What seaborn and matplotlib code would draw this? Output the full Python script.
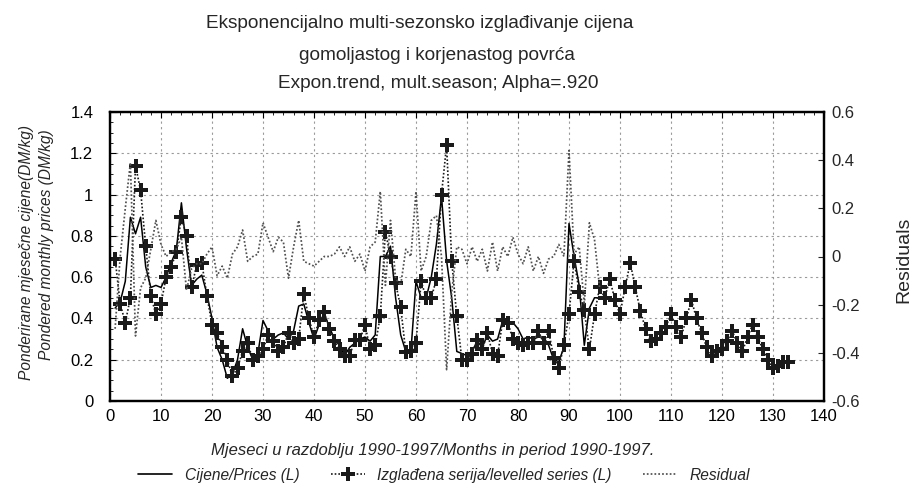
import numpy as np
import pandas as pd
import seaborn as sns
import matplotlib.pyplot as plt
from matplotlib.lines import Line2D
from matplotlib.ticker import MultipleLocator, FuncFormatter

# monthly prices (left axis, DM/kg), months 1..96
prices = [0.45, 0.48, 0.58, 0.89, 0.81, 0.89, 0.65, 0.55, 0.56, 0.55,
          0.60, 0.67, 0.73, 0.96, 0.74, 0.56, 0.59, 0.61, 0.52, 0.40,
          0.26, 0.20, 0.11, 0.13, 0.20, 0.35, 0.26, 0.20, 0.23, 0.39,
          0.34, 0.30, 0.32, 0.33, 0.30, 0.34, 0.46, 0.47, 0.38, 0.30,
          0.37, 0.42, 0.36, 0.30, 0.27, 0.22, 0.26, 0.28, 0.30, 0.31,
          0.29, 0.32, 0.70, 0.70, 0.75, 0.50, 0.32, 0.24, 0.24, 0.58,
          0.50, 0.50, 0.60, 0.76, 0.99, 0.68, 0.50, 0.24, 0.23, 0.22,
          0.24, 0.29, 0.26, 0.32, 0.29, 0.30, 0.39, 0.38, 0.38, 0.35,
          0.30, 0.31, 0.30, 0.31, 0.31, 0.27, 0.20, 0.19, 0.26, 0.86,
          0.70, 0.56, 0.27, 0.45, 0.50, 0.50]

# levelled (smoothed + forecast) series, months 1..133
levelled = [0.69, 0.47, 0.38, 0.50, 1.14, 1.02, 0.75, 0.51, 0.42, 0.47,
            0.60, 0.65, 0.72, 0.89, 0.80, 0.55, 0.66, 0.67, 0.51, 0.37,
            0.33, 0.26, 0.20, 0.12, 0.16, 0.24, 0.28, 0.20, 0.22, 0.25,
            0.32, 0.29, 0.24, 0.26, 0.33, 0.28, 0.30, 0.52, 0.40, 0.31,
            0.39, 0.43, 0.35, 0.29, 0.25, 0.22, 0.22, 0.295, 0.295, 0.37,
            0.25, 0.27, 0.41, 0.82, 0.70, 0.57, 0.455, 0.235, 0.24, 0.28,
            0.58, 0.50, 0.50, 0.59, 1.00, 1.24, 0.68, 0.41, 0.20, 0.20,
            0.23, 0.295, 0.25, 0.33, 0.23, 0.22, 0.39, 0.38, 0.30, 0.28,
            0.27, 0.28, 0.28, 0.34, 0.28, 0.34, 0.21, 0.16, 0.27, 0.42,
            0.68, 0.53, 0.44, 0.25, 0.42, 0.55, 0.50, 0.59, 0.49, 0.42,
            0.55, 0.67, 0.55, 0.435, 0.35, 0.29, 0.30, 0.33, 0.36, 0.42,
            0.36, 0.31, 0.40, 0.49, 0.40, 0.33, 0.26, 0.22, 0.24, 0.25,
            0.29, 0.34, 0.28, 0.24, 0.31, 0.37, 0.31, 0.25, 0.20, 0.16,
            0.17, 0.19, 0.19]

# residuals (right axis), months 1..96
residuals = [-0.30, 0.00, 0.20, 0.39, -0.33, -0.13, -0.09, 0.03, 0.15, 0.05,
             0.00, 0.02, 0.03, 0.08, -0.14, -0.05, -0.03, -0.03, 0.01, 0.04,
             -0.08, -0.04, -0.09, 0.01, 0.04, 0.11, -0.02, 0.00, 0.01, 0.14,
             0.08, 0.02, 0.08, 0.06, -0.09, 0.04, 0.15, -0.02, -0.03, -0.04,
             -0.02, 0.00, 0.00, 0.01, 0.04, 0.00, 0.04, -0.02, 0.01, -0.06,
             0.04, 0.06, 0.27, -0.12, 0.15, -0.09, -0.12, 0.03, 0.00, 0.27,
             -0.06, 0.00, 0.15, 0.17, 0.00, -0.47, -0.15, 0.04, 0.03, -0.03,
             0.04, -0.02, 0.03, -0.06, 0.06, -0.06, 0.04, 0.00, 0.08, 0.01,
             -0.03, 0.04, -0.06, 0.00, -0.07, -0.01, 0.00, 0.05, 0.00, 0.44,
             0.01, 0.04, -0.20, 0.14, 0.07, -0.13]

title_lines = ["Eksponencijalno multi-sezonsko izglađivanje cijena",
               "gomoljastog i korjenastog povrća",
               "Expon.trend, mult.season; Alpha=.920"]
legend_labels = ["Cijene/Prices (L)", "Izglađena serija/levelled series (L)", "Residual"]

df_p = pd.DataFrame({"month": np.arange(1, len(prices) + 1), "value": prices})
df_l = pd.DataFrame({"month": np.arange(1, len(levelled) + 1), "value": levelled})
df_r = pd.DataFrame({"month": np.arange(1, len(residuals) + 1), "value": residuals})

sns.set_style("white")
plt.rcParams["font.family"] = ["Liberation Sans", "DejaVu Sans"]
plt.rcParams["axes.unicode_minus"] = False

fig = plt.figure(figsize=(9.13, 4.86), dpi=100)
ax = fig.add_axes([110 / 913, 1 - 401 / 486, 714 / 913, 289 / 486])
ax2 = ax.twinx()

dot = (0, (1, 1.2))
sns.lineplot(data=df_r, x="month", y="value", ax=ax2, color="#505050", lw=1.25, linestyle=dot)
sns.lineplot(data=df_p, x="month", y="value", ax=ax, color="black", lw=1.1)
sns.lineplot(data=df_l, x="month", y="value", ax=ax, color="#1a1a1a", lw=1.2, linestyle=dot,
             marker="P", markersize=9.5, markeredgewidth=0)

ax.set_xlim(0, 140)
ax.set_ylim(0, 1.4)
ax2.set_ylim(-0.6, 0.6)
ax.xaxis.set_major_locator(MultipleLocator(10))
ax.xaxis.set_minor_locator(MultipleLocator(2))
ax.yaxis.set_major_locator(MultipleLocator(0.2))
ax.yaxis.set_minor_locator(MultipleLocator(0.05))
ax2.yaxis.set_major_locator(MultipleLocator(0.2))
fmt = FuncFormatter(lambda v, p: "%g" % (round(v, 2) + 0.0))
ax.yaxis.set_major_formatter(fmt)
ax2.yaxis.set_major_formatter(fmt)

ax.grid(True, which="major", color="#9a9a9a", lw=0.8, linestyle=(0, (2, 3)))
for a in (ax, ax2):
    for s in a.spines.values():
        s.set_linewidth(1.6)
        s.set_color("black")
ax.tick_params(which="both", direction="in", top=True, labelsize=12, colors="black")
ax.tick_params(axis="x", which="major", length=4, pad=6)
ax.tick_params(axis="y", which="major", length=4, pad=12)
ax.tick_params(which="minor", length=2)
ax2.tick_params(direction="in", length=4, labelsize=12, pad=5)

ax.set_xlabel("")
ax.set_ylabel("")
ax2.set_ylabel("")

for txt, y, xc in zip(title_lines, [23, 55, 83], [420, 437, 438]):
    fig.text(xc / 913, 1 - y / 486, txt, ha="center", va="center", fontsize=13.7)

fig.text(26 / 913, 1 - 252 / 486, "Ponderirane mjesečne cijene(DM/kg)", rotation=90,
         ha="center", va="center", fontsize=11.2, style="italic")
fig.text(47 / 913, 1 - 245 / 486, "Pondered monthly prices (DM/kg)", rotation=90,
         ha="center", va="center", fontsize=11.2, style="italic")
fig.text(904 / 913, 1 - 260 / 486, "Residuals", rotation=90, ha="center", va="center", fontsize=14)
fig.text(433 / 913, 1 - 450 / 486, "Mjeseci u razdoblju 1990-1997/Months in period 1990-1997.",
         ha="center", va="center", fontsize=12, style="italic")

handles = [Line2D([], [], color="black", lw=1.2),
           Line2D([], [], color="#1a1a1a", lw=1.2, linestyle=dot, marker="P", markersize=9.5,
                  markeredgewidth=0),
           Line2D([], [], color="#505050", lw=1.25, linestyle=dot)]
fig.legend(handles, legend_labels, loc="center", bbox_to_anchor=(444 / 913, 1 - 475 / 486),
           ncol=3, frameon=False, prop={"style": "italic", "size": 11.2},
           handlelength=2.2, columnspacing=2.0, handletextpad=0.8, borderpad=0.2)

fig.savefig("out.png", dpi=100)
